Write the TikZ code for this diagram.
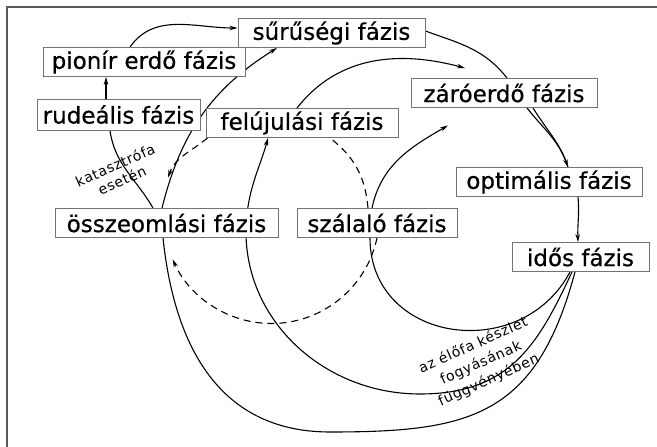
\documentclass[tikz,border=0pt]{standalone}
\usepackage{fontspec}
\setmainfont{DejaVu Sans}
\newfontfamily\dobozfont{DejaVu Sans}[FakeBold=0.6]
\newfontfamily\cimkefont{DejaVu Sans}[LetterSpace=5]
\usetikzlibrary{arrows.meta}
\pgfdeclarelayer{bg}
\pgfsetlayers{bg,main}

\tikzset{
  fazis/.style={draw=black!55,fill=white,line width=0.9pt,inner sep=2pt,
    minimum height=29pt,font=\dobozfont\fontsize{23}{26}\selectfont},
  vonal/.style={line width=1.1pt},
  nyil/.style={vonal,-{Stealth[length=8pt,width=4.5pt]}},
  szagg/.style={dash pattern=on 7pt off 5pt},
  cimke/.style={font=\cimkefont\fontsize{14}{19}\selectfont,inner sep=0pt,align=center}
}

\begin{document}
\begin{tikzpicture}[x=1pt,y=1pt]
\useasboundingbox (0,0) rectangle (657,447);
\draw[black!65,line width=1.5pt] (7,0) -- (7,440) -- (657,440);

% boxes
\node[fazis,minimum width=187pt] (suru) at (331.5,414) {sűrűségi fázis};
\node[fazis,minimum width=202pt] (pion) at (144,385) {pionír erdő fázis};
\node[fazis,minimum width=163pt,minimum height=31pt] (rud) at (118.5,332.5) {rudeális fázis};
\node[fazis,minimum width=192pt] (fel) at (302,324) {felújulási fázis};
\node[fazis,minimum width=186pt] (zaro) at (504,354) {záróerdő fázis};
\node[fazis,minimum width=186pt] (opt) at (549,265) {optimális fázis};
\node[fazis,minimum width=223pt] (oss) at (166.5,224) {összeomlási fázis};
\node[fazis,minimum width=160pt] (szal) at (377,224) {szálaló fázis};
\node[fazis,minimum width=137pt] (idos) at (580.5,190) {idős fázis};

% labels
\node[cimke,rotate=24,font=\cimkefont\fontsize{14}{16.5}\selectfont] (kat) at (118.5,274.5) {katasztrófa\\esetén};
\node[cimke,rotate=24] (elo) at (481,84) {az élőfa készlet\\fogyásának\\függvényében};

\begin{pgfonlayer}{bg}
% upper part
\draw[nyil] ([xshift=-14pt]pion.north) to[out=55,in=180] ([yshift=5pt]suru.west);
\draw[nyil] ([xshift=-12.5pt]rud.north) -- ([xshift=-38pt]pion.south);
\draw[vonal] ([xshift=-13.5pt]oss.north) to[out=120,in=-82] ([xshift=-8.5pt]rud.south);
\draw[nyil] ([xshift=-4.5pt]oss.north) to[out=76,in=-148] ([xshift=-54.5pt]suru.south);
\draw[vonal] ([yshift=2pt]suru.east) to[out=-20,in=128] ([xshift=3pt]zaro.north);
\draw[vonal] ([xshift=23pt]zaro.south) to[out=-52,in=108] ([xshift=19pt]opt.north);
\draw[nyil] ([xshift=29pt]zaro.south) to[out=-58,in=110] ([xshift=19pt]opt.north);
\draw[nyil] ([xshift=29pt]opt.south) to[out=-85,in=92] ([xshift=-2.5pt]idos.north);
\draw[nyil] ([xshift=-5pt]fel.north) to[out=52,in=165] ([xshift=-39pt,yshift=10pt]zaro.north);
\draw[nyil] ([xshift=-5pt]szal.north) to[out=78,in=-150] ([xshift=-56pt,yshift=-17.5pt]zaro.south);

% lower arcs from idős
\draw[vonal] ([xshift=-5.5pt]idos.south) .. controls +(255:150) and +(0:140) .. (330,15)
  .. controls +(180:110) and +(-84:110) .. ([xshift=-3.5pt]oss.south);
\draw[nyil] ([xshift=-8.5pt]idos.south) .. controls +(245:80) and +(0:90) .. (420,53)
  .. controls +(180:95) and +(-90:90) .. (246,215)
  .. controls +(90:40) and +(-105:30) .. ([xshift=-34pt]fel.south);
\draw[vonal] ([xshift=-10.5pt]idos.south) .. controls +(242:105) and +(-90:105) .. ([xshift=-7pt]szal.south);

% dashed circle
\draw[nyil,szagg] (szal.south) arc[start angle=348,end angle=204,radius=108];
\draw[nyil,szagg] ([xshift=2pt]fel.south west) to[out=220,in=70] ([xshift=1.5pt,yshift=30.5pt]oss.north);
\draw[vonal,szagg] ([xshift=-9pt]szal.north) to[out=95,in=-38] ([xshift=28pt]fel.south);
\end{pgfonlayer}
\end{tikzpicture}
\end{document}
